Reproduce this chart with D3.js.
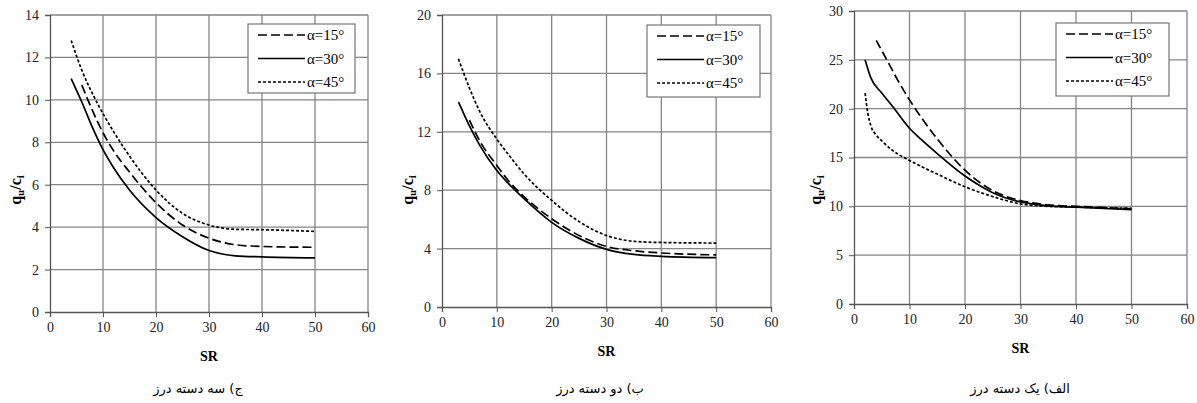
<!DOCTYPE html>
<meta charset="utf-8">
<style>
body { margin: 0; background: #fff; }
text { font-family: "Liberation Serif", "DejaVu Serif", serif; }
.tick text { font-size: 14px; fill: #222; }
.grid line { stroke: #858585; stroke-width: 1.3; }
text.caption { font-family: "DejaVu Sans", sans-serif; font-size: 13px; direction: rtl; }
</style>
<svg width="1197" height="403"></svg>
<script src="https://d3js.org/d3.v7.min.js"></script>
<script>

// legend labels shared by all three panels
var seriesNames = ["α=15°", "α=30°", "α=45°"];
var dashes = ["9,4", null, "3,2"];
var xTicks = [0, 10, 20, 30, 40, 50, 60];

// panel ج : three joint sets
var c_x15 = [6, 8, 10, 12, 15, 20, 25, 30, 35, 40, 50];
var c_y15 = [10.7, 9.5, 8.45, 7.6, 6.6, 5.15, 4.1, 3.48, 3.17, 3.09, 3.05];
var c_x30 = [4, 6, 8, 10, 12, 15, 20, 25, 30, 35, 40, 50];
var c_y30 = [11.0, 9.9, 8.7, 7.65, 6.8, 5.75, 4.45, 3.55, 2.9, 2.65, 2.6, 2.55];
var c_x45 = [4, 6, 8, 10, 12, 15, 20, 25, 30, 35, 40, 50];
var c_y45 = [12.8, 11.4, 10.3, 9.35, 8.5, 7.35, 5.75, 4.65, 4.1, 3.9, 3.88, 3.8];
var c_yTicks = [0, 2, 4, 6, 8, 10, 12, 14];

// panel ب : two joint sets
var b_x15 = [5, 7, 10, 12, 15, 20, 25, 30, 35, 40, 50];
var b_y15 = [12.8, 11.3, 9.7, 8.7, 7.55, 6.05, 4.9, 4.15, 3.85, 3.7, 3.57];
var b_x30 = [3, 5, 7, 10, 12, 15, 20, 25, 30, 35, 40, 50];
var b_y30 = [14.05, 12.4, 11.0, 9.35, 8.5, 7.4, 5.8, 4.7, 3.95, 3.6, 3.47, 3.38];
var b_x45 = [3, 5, 7, 10, 12, 15, 20, 25, 30, 35, 40, 50];
var b_y45 = [17.0, 15.0, 13.3, 11.5, 10.5, 9.1, 7.3, 5.85, 4.9, 4.5, 4.42, 4.38];
var b_yTicks = [0, 4, 8, 12, 16, 20];

// panel الف : one joint set
var a_x15 = [4, 6, 8, 10, 12, 15, 20, 25, 30, 35, 40, 50];
var a_y15 = [27.0, 24.9, 22.8, 20.9, 19.2, 16.9, 13.7, 11.6, 10.6, 10.15, 10.0, 9.75];
var a_x30 = [2, 3, 5, 7, 10, 12, 15, 20, 25, 30, 35, 40, 50];
var a_y30 = [25.0, 23.2, 21.6, 20.2, 18.0, 16.9, 15.4, 13.1, 11.4, 10.45, 10.05, 9.92, 9.65];
var a_x45 = [2, 2.5, 3, 4, 5, 7, 10, 15, 20, 25, 30, 35, 40, 50];
var a_y45 = [21.6, 19.5, 18.3, 17.3, 16.7, 15.7, 14.7, 13.3, 12.0, 11.0, 10.25, 10.0, 9.92, 9.8];
var a_yTicks = [0, 5, 10, 15, 20, 25, 30];

var captions = ["ج) سه دسته درز", "ب) دو دسته درز", "الف) یک دسته درز"];

var zip = function(xs, ys) { return xs.map(function(x, i) { return [x, ys[i]]; }); };

var panels = [
  { left: 50, right: 368, top: 15, bottom: 312, yTicks: c_yTicks, ylabX: 15, capX: 198,
    legend: [248, 24, 107, 69],
    series: [zip(c_x15, c_y15), zip(c_x30, c_y30), zip(c_x45, c_y45)] },
  { left: 442, right: 771, top: 15, bottom: 307, yTicks: b_yTicks, ylabX: 407, capX: 600,
    legend: [647, 25, 113, 72],
    series: [zip(b_x15, b_y15), zip(b_x30, b_y30), zip(b_x45, b_y45)] },
  { left: 854, right: 1187, top: 11, bottom: 304, yTicks: a_yTicks, ylabX: 815, capX: 1020,
    legend: [1056, 23, 113, 73],
    series: [zip(a_x15, a_y15), zip(a_x30, a_y30), zip(a_x45, a_y45)] }
];

var serif = "Liberation Serif, DejaVu Serif, serif";
var svg = d3.select("svg");

panels.forEach(function(p, pi) {
  var x = d3.scaleLinear().domain([0, 60]).range([p.left, p.right]);
  var yMax = p.yTicks[p.yTicks.length - 1];
  var y = d3.scaleLinear().domain([0, yMax]).range([p.bottom, p.top]);
  var g = svg.append("g");

  // grid
  var grid = g.append("g").attr("class", "grid");
  grid.selectAll(".gx").data(xTicks.slice(1)).enter().append("line")
    .attr("x1", function(d) { return x(d); }).attr("x2", function(d) { return x(d); })
    .attr("y1", p.top).attr("y2", p.bottom);
  grid.selectAll(".gy").data(p.yTicks.slice(1)).enter().append("line")
    .attr("x1", p.left).attr("x2", p.right)
    .attr("y1", function(d) { return y(d); }).attr("y2", function(d) { return y(d); });

  // axes
  var xa = g.append("g").attr("transform", "translate(0," + p.bottom + ")")
    .call(d3.axisBottom(x).tickValues(xTicks).tickSize(5).tickPadding(5));
  var ya = g.append("g").attr("transform", "translate(" + p.left + ",0)")
    .call(d3.axisLeft(y).tickValues(p.yTicks).tickSize(5).tickPadding(6));
  [xa, ya].forEach(function(a) {
    a.attr("font-family", serif).attr("font-size", 14);
    a.select(".domain").attr("stroke", "#555").attr("stroke-width", 1.3);
    a.selectAll(".tick line").attr("stroke", "#555");
  });

  // curves
  var line = d3.line()
    .x(function(d) { return x(d[0]); })
    .y(function(d) { return y(d[1]); })
    .curve(d3.curveMonotoneX);
  p.series.forEach(function(s, i) {
    g.append("path").datum(s)
      .attr("d", line)
      .attr("fill", "none")
      .attr("stroke", "#000")
      .attr("stroke-width", 1.7)
      .attr("stroke-dasharray", dashes[i]);
  });

  // legend
  var L = p.legend;
  var lg = g.append("g").attr("transform", "translate(" + L[0] + "," + L[1] + ")");
  lg.append("rect").attr("width", L[2]).attr("height", L[3])
    .attr("fill", "#fff").attr("stroke", "#777").attr("stroke-width", 1.2);
  seriesNames.forEach(function(name, i) {
    var ry = 11 + i * 23.5;
    lg.append("line").attr("x1", 10).attr("x2", 57).attr("y1", ry).attr("y2", ry)
      .attr("stroke", "#000").attr("stroke-width", 1.7).attr("stroke-dasharray", dashes[i]);
    lg.append("text").attr("x", 59).attr("y", ry).attr("dy", "0.35em")
      .attr("font-size", 15).text(name);
  });

  // axis titles
  g.append("text").attr("x", (p.left + p.right) / 2).attr("y", p.bottom + 44)
    .attr("dy", "0.35em").attr("text-anchor", "middle")
    .attr("font-size", 14).attr("font-weight", "bold").text("SR");

  var yl = g.append("text")
    .attr("transform", "translate(" + p.ylabX + ",190) rotate(-90)")
    .attr("text-anchor", "middle").attr("dy", "0.35em")
    .attr("font-size", 16).attr("font-weight", "bold");
  yl.append("tspan").text("q");
  yl.append("tspan").attr("font-size", 11).attr("baseline-shift", "-25%").text("u");
  yl.append("tspan").text("/c");
  yl.append("tspan").attr("font-size", 11).attr("baseline-shift", "-25%").text("i");

  // caption
  g.append("text").attr("class", "caption")
    .attr("x", p.capX).attr("y", 388).attr("dy", "0.35em")
    .attr("text-anchor", "middle").text(captions[pi]);
});

</script>
